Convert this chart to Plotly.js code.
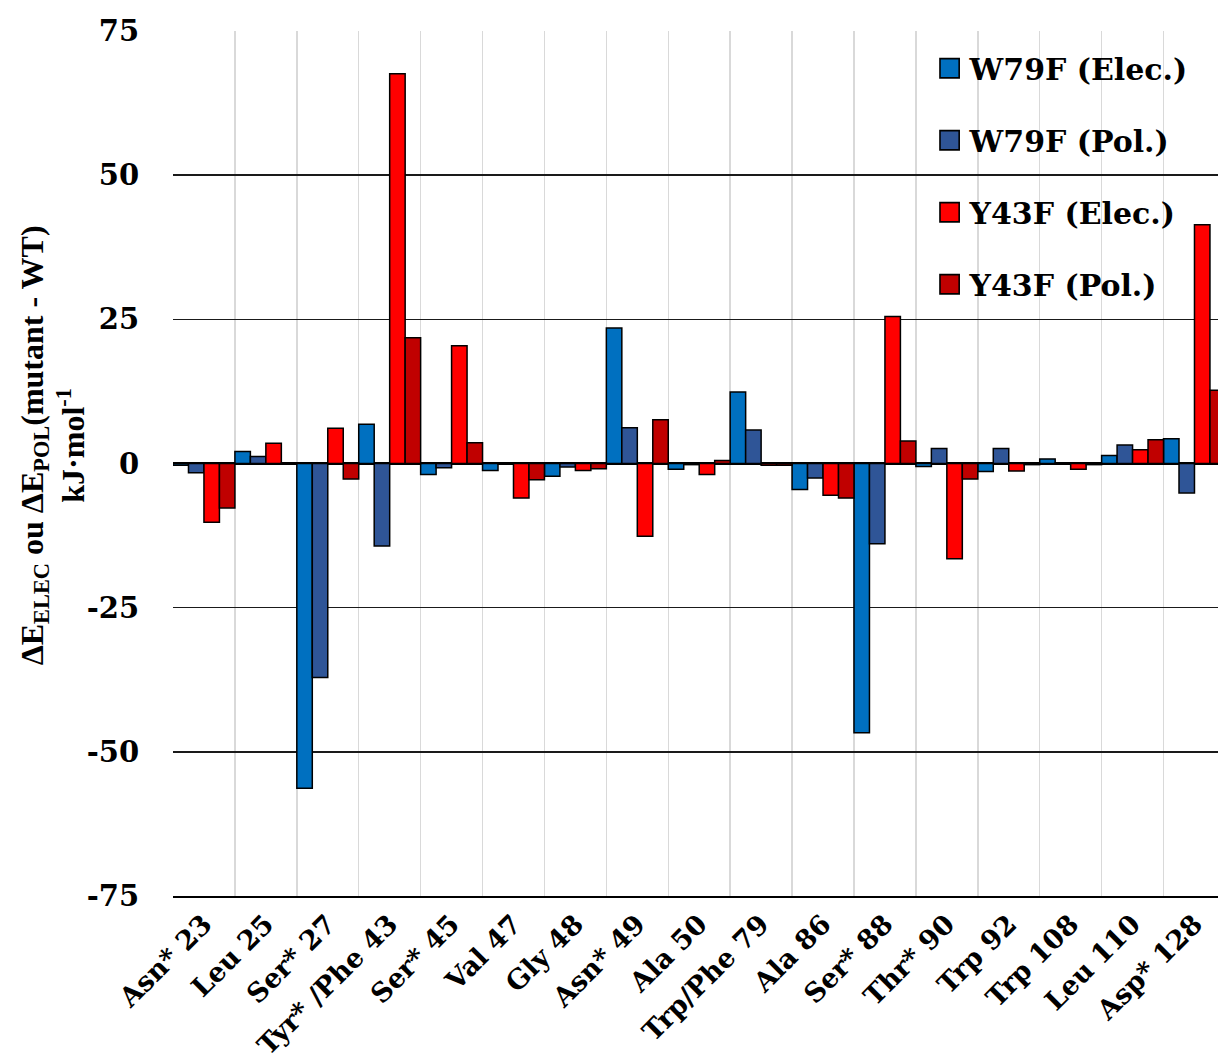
<!DOCTYPE html>
<html>
<head>
<meta charset="utf-8">
<script src="https://cdn.plot.ly/plotly-3.0.1.min.js"></script>
<style>html,body{margin:0;padding:0;background:#fff;}#chart{width:1218px;height:1062px;}</style>
</head>
<body>
<div id="chart"></div>
<script>
const categories = ["Asn* 23","Leu 25","Ser* 27","Tyr* /Phe 43","Ser* 45","Val 47","Gly 48","Asn* 49","Ala 50","Trp/Phe 79","Ala 86","Ser* 88","Thr* 90","Trp 92","Trp 108","Leu 110","Asp* 128"];
const w79fElec = [-0.3, 2.1, -56.3, 6.8, -1.9, -1.2, -2.2, 23.5, -1.0, 12.4, -4.5, -46.7, -0.5, -1.4, 0.8, 1.4, 4.3];
const w79fPol  = [-1.6, 1.2, -37.1, -14.3, -0.75, -0.1, -0.6, 6.2, -0.2, 5.8, -2.5, -13.9, 2.6, 2.6, 0.1, 3.2, -5.1];
const y43fElec = [-10.2, 3.5, 6.1, 67.6, 20.4, -6.0, -1.2, -12.6, -1.9, -0.3, -5.5, 25.5, -16.5, -1.3, -1.0, 2.4, 41.4];
const y43fPol  = [-7.7, 0.1, -2.7, 21.8, 3.6, -2.8, -0.9, 7.6, 0.5, -0.3, -6.0, 3.9, -2.7, -0.2, -0.2, 4.1, 12.7];
const seriesNames = ["W79F (Elec.)","W79F (Pol.)","Y43F (Elec.)","Y43F (Pol.)"];
const yTickVals = [-75,-50,-25,0,25,50,75];
const yTickText = ["-75","-50","-25","0","25","50","75"];
const yTitle = "ΔE<sub>ELEC</sub> ou ΔE<sub>POL</sub>(mutant - WT)<br>kJ·mol<sup>-1</sup>";

const colors = ["#0070C0","#2F5597","#FF0000","#C00000"];
const seriesData = [w79fElec, w79fPol, y43fElec, y43fPol];
const FONT = "DejaVu Serif";

const traces = seriesData.map((vals, i) => ({
  type: "bar",
  name: seriesNames[i],
  x: categories,
  y: vals,
  legendgroup: "g" + i,
  marker: {color: colors[i], line: {color: "#000", width: 1.5}}
}));

const layout = {
  width: 1218, height: 1062,
  margin: {l: 173, r: 0, t: 31, b: 166},
  paper_bgcolor: "#fff", plot_bgcolor: "#fff",
  barmode: "group", bargap: 0, bargroupgap: 0,
  font: {family: FONT, size: 28, color: "#000", weight: 700},
  showlegend: true,
  legend: {
    x: 0.724, y: 0.987, xanchor: "left", yanchor: "top",
    bgcolor: "rgba(0,0,0,0)",
    font: {family: FONT, size: 30, color: "#000", weight: 700},
    traceorder: "grouped", tracegroupgap: 30,
    itemwidth: 30
  },
  xaxis: {
    type: "category",
    range: [-0.5, 16.38],
    tickson: "boundaries",
    showgrid: true, gridcolor: "#d9d9d9", gridwidth: 1.5,
    ticks: "", tickangle: -45,
    tickfont: {family: FONT, size: 27, color: "#000", weight: 700},
    showline: true, linecolor: "#000", linewidth: 1.5,
    zeroline: false, fixedrange: true
  },
  yaxis: {
    range: [-75, 75],
    tickmode: "array", tickvals: yTickVals, ticktext: yTickText,
    showgrid: true, gridcolor: "#1a1a1a", gridwidth: 1.5,
    zeroline: true, zerolinecolor: "#000", zerolinewidth: 3,
    ticks: "outside", ticklen: 27, tickcolor: "rgba(0,0,0,0)",
    tickfont: {family: FONT, size: 29, color: "#000", weight: 700},
    showline: false,
    fixedrange: true
  },
  annotations: [{
    text: yTitle,
    xref: "paper", yref: "paper",
    x: -0.1148, y: 0.521, xanchor: "center", yanchor: "middle",
    textangle: -90, showarrow: false,
    font: {family: "Liberation Serif", size: 32, color: "#000", weight: 700}
  }]
};

Plotly.newPlot("chart", traces, layout, {displayModeBar: false, staticPlot: true}).then(gd => {
  gd.querySelectorAll(".legend [clip-path]").forEach(el => el.removeAttribute("clip-path"));
  gd.querySelectorAll(".legend .legendpoints path").forEach(p => {
    const b = p.getBBox();
    const cx = b.x + b.width / 2, cy = b.y + b.height / 2;
    const prev = p.getAttribute("transform") || "";
    p.setAttribute("transform", prev + ` translate(${cx},${cy}) scale(1.6) translate(${-cx},${-cy})`);
    p.style.strokeWidth = "1px";
  });
});
</script>
</body>
</html>
